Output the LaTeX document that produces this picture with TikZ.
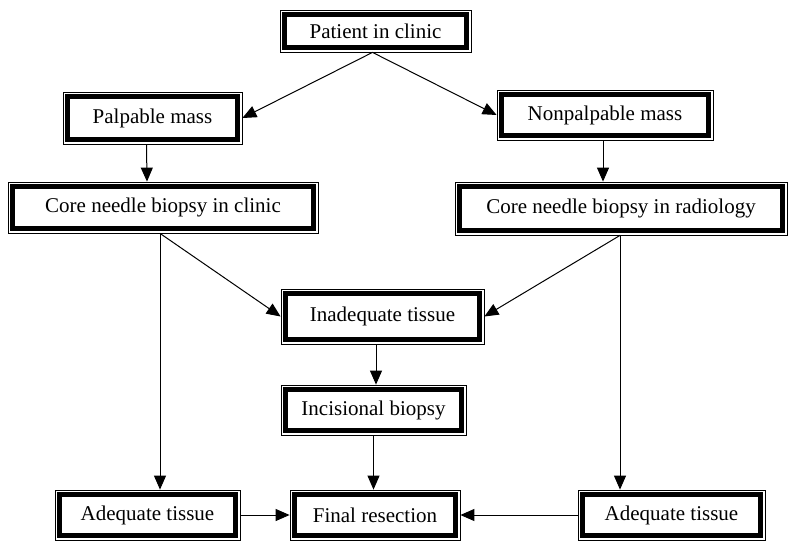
\documentclass[tikz,border=0pt]{standalone}
\usepackage{fontspec}
\setmainfont{Liberation Serif}
\usetikzlibrary{arrows.meta}
\begin{document}
\begin{tikzpicture}
[x=1pt,y=-1pt,
  boxdecorate/.style={shape=rectangle,draw,line width=0.8pt,inner sep=0pt,
    font=\fontsize{21}{24}\selectfont,
    path picture={\draw[line width=5pt]
      ([shift={(4.5pt,-4.5pt)}]path picture bounding box.north west) rectangle
      ([shift={(-4.5pt,4.5pt)}]path picture bounding box.south east);}},
  arrowdecorate/.style={-{Triangle[length=14pt,width=12pt]},line width=1pt}]
\useasboundingbox (0,0) rectangle (802,542);
%% nodes or boxes
\foreach \nodename/\x/\y/\w/\h/\label in {
  patient/375.5/31/191/42/Patient in clinic,
  palpable/152.5/118/179/52/Palpable mass,
  nonpalpable/605/115/216/50/Nonpalpable mass,
  coreclinic/163/207.5/310/51/Core needle biopsy in clinic,
  coreradiology/621/208.5/332/53/Core needle biopsy in radiology,
  inadequate/382.5/316.5/203/55/Inadequate tissue,
  incisional/373.5/410/185/50/Incisional biopsy,
  adequateleft/147.5/515/185/50/Adequate tissue,
  resection/375/515/170/50/Final resection,
  adequateright/671.5/515/187/50/Adequate tissue} {
  \node (\nodename) at (\x,\y) [boxdecorate,minimum width=\w pt,minimum height=\h pt] {\label};
}
%% edges or arrows
\draw[arrowdecorate] ([xshift=-3pt]patient.south) -- (palpable.east);
\draw[arrowdecorate] ([xshift=-3pt]patient.south) -- (nonpalpable.west);
\draw[arrowdecorate] ([xshift=-6pt]palpable.south) -- ([xshift=-16pt]coreclinic.north);
\draw[arrowdecorate] ([xshift=-2pt]nonpalpable.south) -- ([xshift=-18pt]coreradiology.north);
\draw[arrowdecorate] ([xshift=-3pt]coreclinic.south) -- (inadequate.west);
\draw[arrowdecorate] ([xshift=-1pt]coreradiology.south) -- (inadequate.east);
\draw[arrowdecorate] ([xshift=-3pt]coreclinic.south) -- ([xshift=12.5pt]adequateleft.north);
\draw[arrowdecorate] ([xshift=-1pt]coreradiology.south) -- ([xshift=-51.5pt]adequateright.north);
\draw[arrowdecorate] ([xshift=-6.5pt]inadequate.south) -- ([xshift=2.5pt]incisional.north);
\draw[arrowdecorate] (incisional.south) -- ([xshift=-1.5pt]resection.north);
\draw[arrowdecorate] (adequateleft.east) -- (resection.west);
\draw[arrowdecorate] (adequateright.west) -- (resection.east);
\end{tikzpicture}
\end{document}
